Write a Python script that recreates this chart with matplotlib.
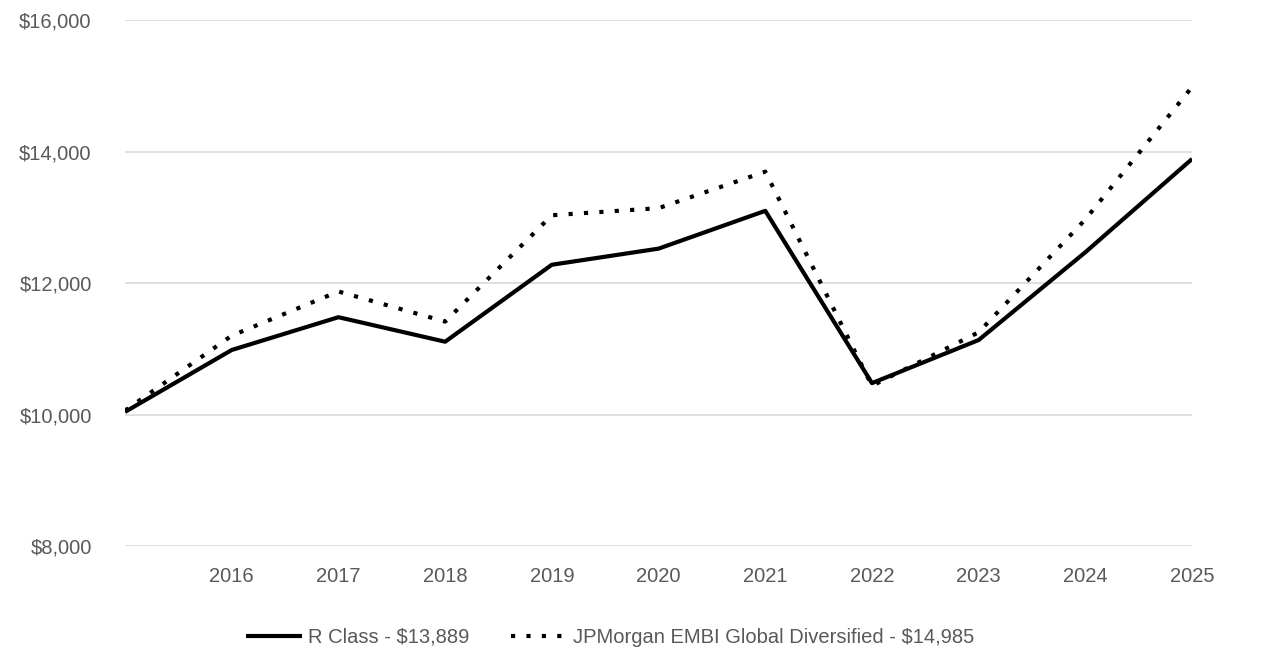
import matplotlib
matplotlib.use("Agg")
import matplotlib.pyplot as plt
from matplotlib.ticker import FuncFormatter

# growth of $10,000
years = [2015, 2016, 2017, 2018, 2019, 2020, 2021, 2022, 2023, 2024, 2025]
r_class = [10040, 10982, 11481, 11108, 12279, 12524, 13099, 10478, 11134, 12470, 13889]
jpm_embi = [10060, 11200, 11872, 11414, 13032, 13140, 13695, 10437, 11252, 12970, 14985]
tick_years = [2016, 2017, 2018, 2019, 2020, 2021, 2022, 2023, 2024, 2025]
y_ticks = [8000, 10000, 12000, 14000, 16000]

plt.rcParams['font.family'] = ['Liberation Sans', 'DejaVu Sans']
grey = "#595959"
fs = 14.5

fig = plt.figure(figsize=(12.86, 6.72), dpi=100)
ax = fig.add_axes([0.0972, 0.1875, 0.8298, 0.7825])

ax.plot(years, r_class, color="black", lw=3, solid_capstyle="butt",
        label="R Class - $13,889")
ax.plot(years, jpm_embi, color="black", lw=3, linestyle=(0, (1, 2.7)),
        dash_capstyle="butt", label="JPMorgan EMBI Global Diversified - $14,985")

ax.set_xlim(2015, 2025)
ax.set_ylim(8000, 16000)
ax.set_xticks(tick_years)
ax.set_yticks(y_ticks)
ax.yaxis.set_major_formatter(FuncFormatter(lambda v, p: "${:,.0f}".format(v)))
ax.tick_params(axis="both", length=0, labelsize=fs, colors=grey)
ax.tick_params(axis="y", pad=24)
ax.tick_params(axis="x", pad=15)
ax.grid(axis="y", color="#d9d9d9", lw=1.2)
ax.set_axisbelow(True)
for s in ax.spines.values():
    s.set_visible(False)

leg = fig.legend(loc="center", bbox_to_anchor=(0.4745, 0.052), ncol=2, frameon=False,
                 fontsize=fs, handlelength=2.8, columnspacing=2.05, handletextpad=0.3)
for t in leg.get_texts():
    t.set_color(grey)

fig.savefig("out.png", dpi=100)
